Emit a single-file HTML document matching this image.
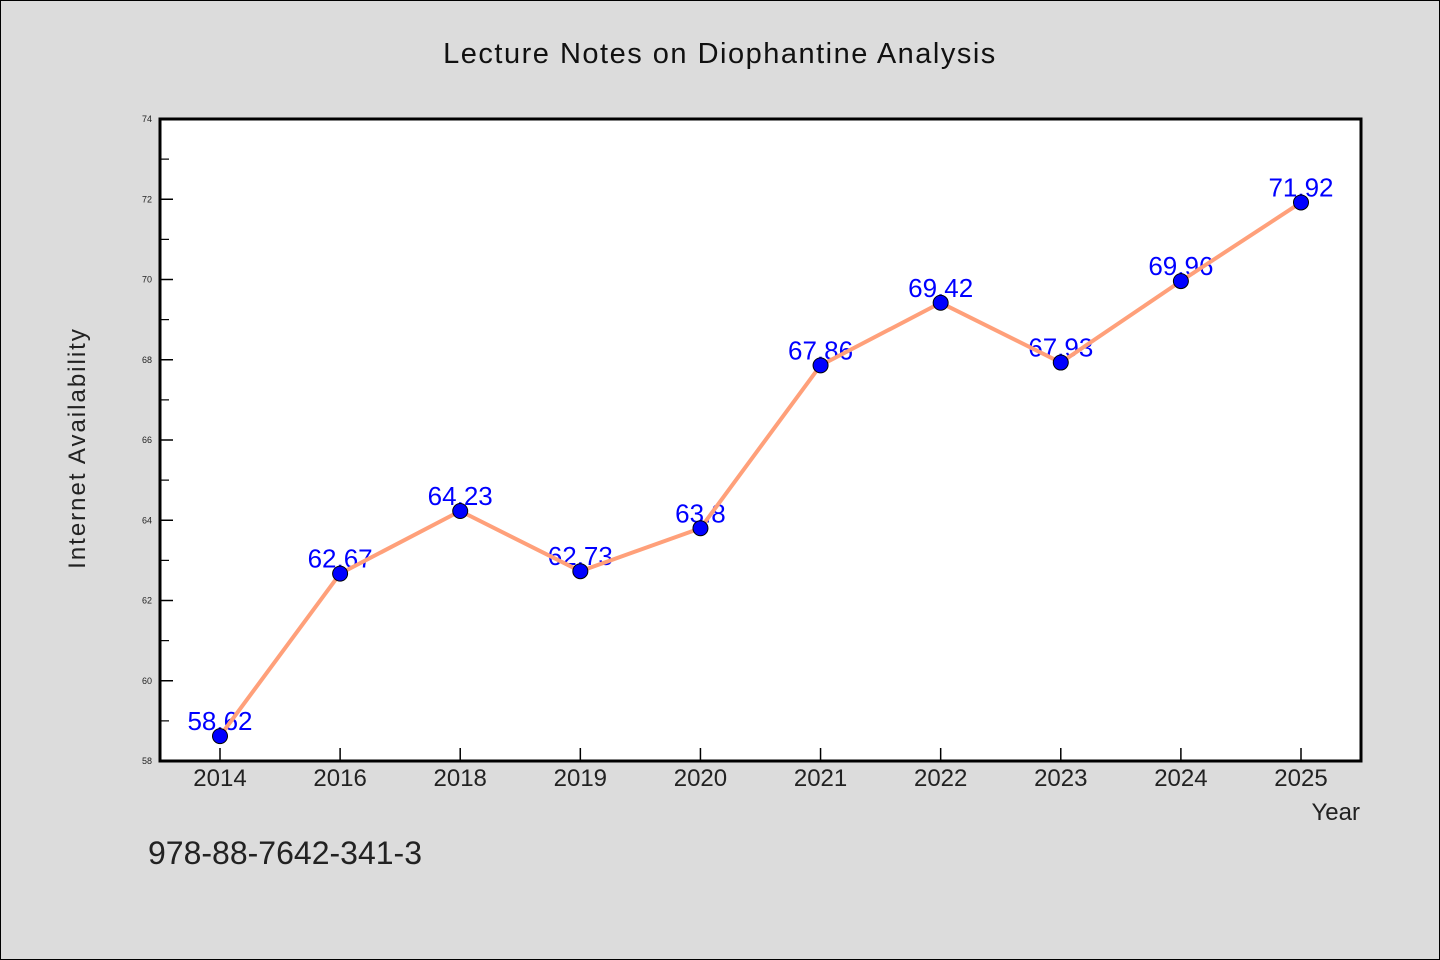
<!DOCTYPE html>
<html><head><meta charset="utf-8"><style>
html,body{margin:0;padding:0;background:#dcdcdc}
svg{display:block;font-family:"WenQuanYi Zen Hei","Liberation Sans",sans-serif}
</style></head><body>
<svg id="chart" width="1440" height="960" xmlns="http://www.w3.org/2000/svg">
<rect x="0.5" y="0.5" width="1439" height="959" fill="#dcdcdc" stroke="#000" stroke-width="1"/>
<text x="720" y="63" font-size="29" text-anchor="middle" fill="#111" letter-spacing="1.5">Lecture Notes on Diophantine Analysis</text>
<rect x="160" y="119" width="1201" height="642" fill="#fff"/>
<g id="ticks"></g>
<g id="labels"></g>
<g id="series"></g>
<rect x="160" y="119" width="1201" height="642" fill="none" stroke="#000" stroke-width="3"/>
<text transform="translate(85,448) rotate(-90)" font-size="24" text-anchor="middle" fill="#222" letter-spacing="2">Internet Availability</text>
<text x="1360" y="820" font-size="24" text-anchor="end" fill="#222">Year</text>
<text x="148" y="864" font-size="32" fill="#222">978-88-7642-341-3</text>
</svg>
<script>
const categories = ["2014","2016","2018","2019","2020","2021","2022","2023","2024","2025"];
const values = [58.62,62.67,64.23,62.73,63.8,67.86,69.42,67.93,69.96,71.92];
const valueLabels = ["58.62","62.67","64.23","62.73","63.8","67.86","69.42","67.93","69.96","71.92"];
const yTicks = [58,60,62,64,66,68,70,72,74];
const yMinor = [59,61,63,65,67,69,71,73];
const NS="http://www.w3.org/2000/svg";
const L=160,R=1361,T=119,B=761,yMin=58,yMax=74;
const x=i=>220+i*(R-L-120)/(categories.length-1);
const y=v=>B-(v-yMin)/(yMax-yMin)*(B-T);
function mk(tag,attrs,parent){const e=document.createElementNS(NS,tag);for(const k in attrs)e.setAttribute(k,attrs[k]);parent.appendChild(e);return e;}
const tk=document.getElementById('ticks'),lb=document.getElementById('labels'),sr=document.getElementById('series');
yTicks.forEach(v=>{
  const l=mk('line',{x1:L,x2:L+13,y1:y(v),y2:y(v),stroke:'#000','stroke-width':1.5},tk);
  
  
  const t=mk('text',{x:L-8,y:y(v)+3,'font-size':9,'text-anchor':'end',fill:'#222'},tk);
  t.textContent=v;
  
  
});
yMinor.forEach(v=>{
  const l=mk('line',{x1:L,x2:L+9,y1:y(v),y2:y(v),stroke:'#000','stroke-width':1.2},tk);
  
  
});
categories.forEach((c,i)=>{
  const l=mk('line',{x1:x(i),x2:x(i),y1:B,y2:B-13,stroke:'#000','stroke-width':1.5},tk);
  
  
  const t=mk('text',{x:x(i),y:B+25,'font-size':24,'text-anchor':'middle',fill:'#222'},tk);
  t.textContent=c;
  
  
});
values.forEach((v,i)=>{
  const t=mk('text',{x:x(i),y:y(v)-6,'font-size':26,'text-anchor':'middle',fill:'#0000ff'},lb);
  t.textContent=valueLabels[i];
  
  
});
const p=mk('polyline',{points:values.map((v,i)=>x(i)+','+y(v)).join(' '),fill:'none',stroke:'#ffa07a','stroke-width':4,'stroke-linejoin':'round'},sr);


values.forEach((v,i)=>{
  const c=mk('circle',{cx:x(i),cy:y(v),r:7.5,fill:'#0000ff',stroke:'#000','stroke-width':1},sr);
  
  
});
</script>
</body></html>
